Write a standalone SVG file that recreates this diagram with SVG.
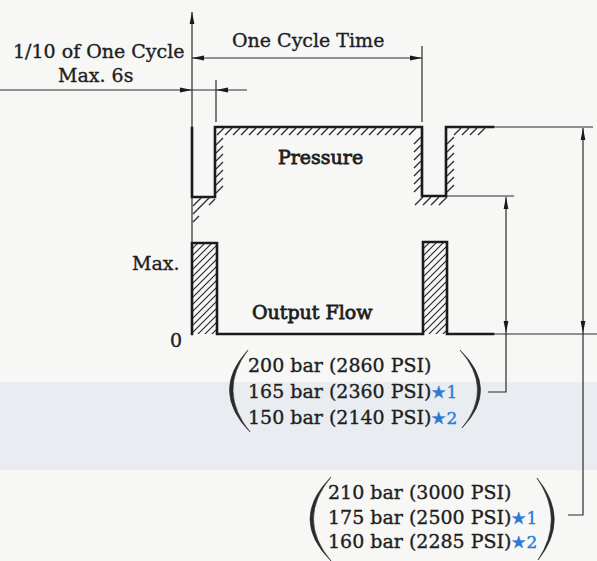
<svg xmlns="http://www.w3.org/2000/svg" width="597" height="561" viewBox="0 0 597 561">
<style>
text{font-family:"DejaVu Serif","Liberation Serif",serif;fill:#1e1e1e;stroke:#1e1e1e;stroke-width:0.35;font-size:19px}
.lbl{font-size:19px;stroke-width:0.8}
.star{fill:#2a7ad6;stroke:#2a7ad6;font-size:17px}
.thick{stroke:#1a1a1a;stroke-width:2.6;fill:none;stroke-linecap:square}
.thin{stroke:#2a2a2a;stroke-width:1.2;fill:none}
.hatch{stroke:#2a2a2a;stroke-width:1.3;fill:none}
.paren{fill:#2a2a2a;stroke:#2a2a2a;stroke-width:0.6}
</style>
<defs>
<marker id="arr" viewBox="0 0 12 6" refX="12" refY="3" markerWidth="12" markerHeight="6" markerUnits="userSpaceOnUse" orient="auto-start-reverse">
<path d="M0,0.6 L12,3 L0,5.4 z" fill="#1a1a1a"/>
</marker>
<pattern id="hp" patternUnits="userSpaceOnUse" width="7" height="7">
<path d="M-1,8 L8,-1 M-1,1 L1,-1 M6,8 L8,6" stroke="#2a2a2a" stroke-width="1.2"/>
</pattern>
</defs>
<rect width="597" height="561" fill="#f7f7f6"/>
<rect y="382" width="597" height="88" fill="#e9ecf0"/>

<g id="connectors">
<line class="thin" x1="192" y1="334" x2="192" y2="12" marker-end="url(#arr)"/>
<line class="thin" x1="192" y1="58" x2="422" y2="58" marker-start="url(#arr)" marker-end="url(#arr)"/>
<line class="thin" x1="422" y1="46" x2="422" y2="122"/>
<line class="thin" x1="0" y1="90" x2="247" y2="90"/>
<path d="M180,87.6 L192,90 L180,92.4 z M228,87.6 L216,90 L228,92.4 z" fill="#1a1a1a"/>
<line class="thin" x1="216" y1="80" x2="216" y2="122"/>
<line class="thin" x1="493" y1="127" x2="593" y2="127"/>
<line class="thin" x1="446" y1="196" x2="514" y2="196"/>
<line class="thin" x1="493" y1="334" x2="597" y2="334"/>
<line class="thin" x1="506" y1="197" x2="506" y2="333" marker-start="url(#arr)" marker-end="url(#arr)"/>
<polyline class="thin" points="506,333 506,392 488,392"/>
<line class="thin" x1="583" y1="128" x2="583" y2="333" marker-start="url(#arr)" marker-end="url(#arr)"/>
<polyline class="thin" points="583,333 583,515 568,515"/>
</g>

<g id="pressure">
<polyline class="thick" points="192,128 192,197 215,197 215,127 422,127 422,196 446,196 446,127 493,127"/>
<path class="hatch" d="M217,135l7,-7m1,7l7,-7m1,7l7,-7m1,7l7,-7m1,7l7,-7m1,7l7,-7m1,7l7,-7m1,7l7,-7m1,7l7,-7m1,7l7,-7m1,7l7,-7m1,7l7,-7m1,7l7,-7m1,7l7,-7m1,7l7,-7m1,7l7,-7m1,7l7,-7m1,7l7,-7m1,7l7,-7m1,7l7,-7m1,7l7,-7m1,7l7,-7m1,7l7,-7m1,7l7,-7m1,7l7,-7"/>
<path class="hatch" d="M216,145l7,-7m-7,15l7,-7m-7,15l7,-7m-7,15l7,-7m-7,15l7,-7m-7,15l7,-7m-7,15l7,-7"/>
<path class="hatch" d="M193,206l9,-9m-1,9l9,-9m-1,8l6,-6M193,214l8,-8M193,222l6,-6"/>
<path class="hatch" d="M414,144l7,-7m-7,15l7,-7m-7,15l7,-7m-7,15l7,-7m-7,15l7,-7m-7,15l7,-7m-7,15l7,-7"/>
<path class="hatch" d="M447,144l7,-7m-7,15l7,-7m-7,15l7,-7m-7,15l7,-7m-7,15l7,-7m-7,15l7,-7m-7,15l7,-7"/>
<path class="hatch" d="M415,205l8,-8m0,8l8,-8m0,8l8,-8m0,8l8,-8"/>
<path class="hatch" d="M454,135l7,-7m1,7l7,-7m1,7l7,-7m1,7l7,-7"/>
<text class="lbl" x="278" y="164">Pressure</text>
</g>

<g id="flow">
<rect x="192" y="243" width="25" height="91" fill="url(#hp)"/>
<rect x="423" y="242" width="24" height="92" fill="url(#hp)"/>
<polyline class="thick" points="192,334 192,243 217,243 217,334 423,334 423,242 447,242 447,334 493,334"/>
<text class="lbl" x="252" y="319">Output Flow</text>
</g>

<g id="axis-labels">
<text x="13" y="58">1/10 of One Cycle</text>
<text x="58" y="82">Max. 6s</text>
<text x="232" y="47">One Cycle Time</text>
<text x="132" y="270">Max.</text>
<text x="170" y="347">0</text>
</g>

<g id="group1">
<path class="paren" d="M248,350 Q210,391 250,432 Q217,391 248,350 Z"/>
<path class="paren" d="M460,350 Q500,389 462,428 Q494,389 460,350 Z"/>
<text x="248" y="372">200 bar (2860 PSI)</text>
<text x="248" y="398">165 bar (2360 PSI)<tspan class="star">★1</tspan></text>
<text x="248" y="424">150 bar (2140 PSI)<tspan class="star">★2</tspan></text>
</g>

<g id="group2">
<path class="paren" d="M331,477 Q289,519 331,561 Q296,519 331,477 Z"/>
<path class="paren" d="M537,478 Q571,519 538,560 Q565,519 537,478 Z"/>
<text x="328" y="499">210 bar (3000 PSI)</text>
<text x="328" y="524">175 bar (2500 PSI)<tspan class="star">★1</tspan></text>
<text x="328" y="548">160 bar (2285 PSI)<tspan class="star">★2</tspan></text>
</g>
</svg>
